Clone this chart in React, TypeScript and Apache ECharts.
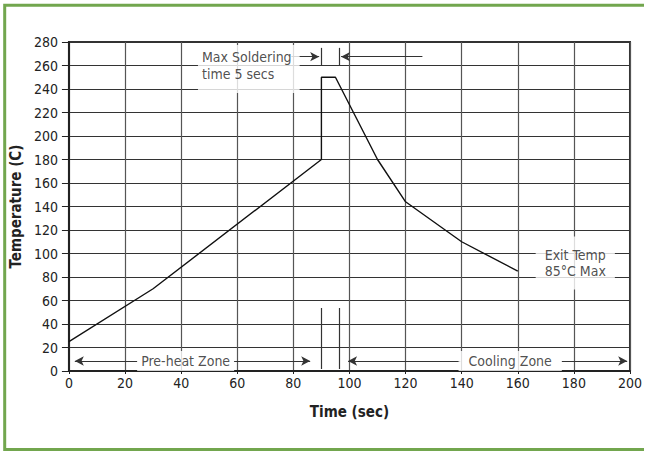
import React, { useEffect, useRef } from "react";
import * as echarts from "echarts";

// Reflow profile
const timeSec = [0, 30, 90, 90, 95, 110, 120, 140, 160];
const tempC = [25, 70, 180, 250, 250, 180, 144, 110, 85];

// Axis ticks
const xTicks = [0, 20, 40, 60, 80, 100, 120, 140, 160, 180, 200];
const yTicks = [0, 20, 40, 60, 80, 100, 120, 140, 160, 180, 200, 220, 240, 260, 280];

// Soldering window markers (seconds)
const solderStart = 90;
const solderEnd = 96.3;
const markerTopY = [259.6, 275];
const markerBottomY = [1.7, 53.6];
const arrowTopY = 267.5;
const topArrowRight = [79.3, 89.2]; // from, to
const topArrowLeft = [126, 97]; // from, to

// Zone arrows
const zoneY = 8.5;
const preheatArrows = [
  [24.4, 2.1],
  [58.8, 86],
];
const coolingArrows = [
  [139.5, 99.5],
  [175.6, 199],
];

// Annotation texts
const solderLabel = "Max Soldering\ntime 5 secs";
const solderLabelPos = [46, 277.4];
const preheatLabel = "Pre-heat Zone";
const preheatLabelPos = [41.6, 8.5];
const coolingLabel = "Cooling Zone";
const coolingLabelPos = [157.3, 8.5];
const exitLabel = "Exit Temp\n85°C Max";
const exitLabelPos = [180.5, 91.9];

const FONT = '"DejaVu Sans Condensed", "Liberation Sans", sans-serif';

export default function App() {
  const ref = useRef<HTMLDivElement>(null);

  useEffect(() => {
    if (!ref.current) return;
    const chart = echarts.init(ref.current, null, { renderer: "svg" });

    const arrowSeg = (from: number, to: number, y: number) => [
      { coord: [from, y] },
      { coord: [to, y] },
    ];
    const vSeg = (x: number, ys: number[]) => [
      { coord: [x, ys[0]] },
      { coord: [x, ys[1]] },
    ];

    const textLabel = (pos: number[], text: string, opts: any) => ({
      type: "scatter",
      data: [pos],
      symbolSize: 0,
      silent: true,
      z: 5,
      label: {
        show: true,
        position: [0, 0],
        formatter: text,
        color: "#222",
        fontFamily: FONT,
        fontSize: 14,
        backgroundColor: "#fff",
        ...opts,
      },
    });

    chart.setOption({
      animation: false,
      backgroundColor: "#fff",
      grid: {
        left: 66,
        top: 42,
        right: 14,
        bottom: 80,
        show: true,
        borderColor: "#333",
        borderWidth: 2,
        backgroundColor: "transparent",
      },
      graphic: [
        {
          type: "polyline",
          shape: {
            points: [
              [644, 5.2],
              [4.7, 5.2],
              [4.7, 449.6],
              [644, 449.6],
            ],
          },
          style: { fill: null, stroke: "#72a64e", lineWidth: 3 },
          silent: true,
        },
      ],
      xAxis: {
        type: "value",
        min: xTicks[0],
        max: xTicks[xTicks.length - 1],
        interval: 20,
        name: "Time (sec)",
        nameLocation: "middle",
        nameGap: 33,
        nameTextStyle: { fontFamily: FONT, fontSize: 15, fontWeight: "bold", color: "#222" },
        axisLine: { show: true, lineStyle: { color: "#222", width: 2 } },
        axisTick: { show: true, length: 3, lineStyle: { color: "#222" } },
        axisLabel: { fontFamily: FONT, fontSize: 14, color: "#222", margin: 5 },
        splitLine: { show: true, lineStyle: { color: "#555", width: 1.2 } },
      },
      yAxis: {
        type: "value",
        min: yTicks[0],
        max: yTicks[yTicks.length - 1],
        interval: 20,
        name: "Temperature (C)",
        nameLocation: "middle",
        nameGap: 42,
        nameTextStyle: { fontFamily: FONT, fontSize: 15, fontWeight: "bold", color: "#222" },
        axisLine: { show: true, lineStyle: { color: "#222", width: 2 } },
        axisTick: { show: true, length: 7, lineStyle: { color: "#222" } },
        axisLabel: { fontFamily: FONT, fontSize: 14, color: "#222", margin: 11 },
        splitLine: { show: true, lineStyle: { color: "#333", width: 1.2 } },
      },
      series: [
        {
          type: "line",
          data: timeSec.map((t, i) => [t, tempC[i]]),
          showSymbol: false,
          symbol: "none",
          lineStyle: { color: "#111", width: 1.4 },
          z: 4,
        },
        {
          type: "line",
          data: [],
          markLine: {
            silent: true,
            symbol: ["none", "arrow"],
            symbolSize: [7, 9],
            label: { show: false },
            lineStyle: { color: "#333", width: 1, type: "solid" },
            data: [
              arrowSeg(topArrowRight[0], topArrowRight[1], arrowTopY),
              arrowSeg(topArrowLeft[0], topArrowLeft[1], arrowTopY),
              arrowSeg(preheatArrows[0][0], preheatArrows[0][1], zoneY),
              arrowSeg(preheatArrows[1][0], preheatArrows[1][1], zoneY),
              arrowSeg(coolingArrows[0][0], coolingArrows[0][1], zoneY),
              arrowSeg(coolingArrows[1][0], coolingArrows[1][1], zoneY),
            ],
          },
        },
        {
          type: "line",
          data: [],
          markLine: {
            silent: true,
            symbol: ["none", "none"],
            label: { show: false },
            lineStyle: { color: "#333", width: 1.2, type: "solid" },
            data: [
              vSeg(solderStart, markerTopY),
              vSeg(solderEnd, markerTopY),
              vSeg(solderStart, markerBottomY),
              vSeg(solderEnd, markerBottomY),
            ],
          },
        },
        textLabel(solderLabelPos, solderLabel, {
          align: "left",
          verticalAlign: "top",
          lineHeight: 16.5,
          padding: [4, 8, 11, 4],
        }),
        textLabel(preheatLabelPos, preheatLabel, {
          align: "center",
          verticalAlign: "middle",
          lineHeight: 16,
          padding: [2, 4],
        }),
        textLabel(coolingLabelPos, coolingLabel, {
          align: "center",
          verticalAlign: "middle",
          lineHeight: 16,
          padding: [2, 10],
        }),
        textLabel(exitLabelPos, exitLabel, {
          align: "center",
          verticalAlign: "middle",
          lineHeight: 16.5,
          padding: [10, 9],
        }),
      ],
    });

    return () => chart.dispose();
  }, []);

  return (
    <div
      ref={ref}
      style={{ position: "absolute", left: 0, top: 0, width: 645, height: 451 }}
    />
  );
}
